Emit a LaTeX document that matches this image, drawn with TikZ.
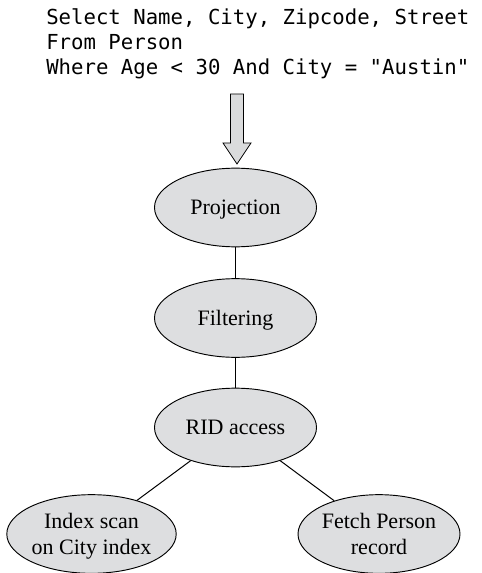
\documentclass[tikz,border=0pt]{standalone}
\usepackage{fontspec}
\setmainfont{Liberation Serif}
\newfontfamily\querymono{DejaVu Sans Mono}
\usetikzlibrary{shapes.geometric}
\definecolor{opfill}{RGB}{221,222,224}
\definecolor{arrowfill}{RGB}{218,219,220}
\begin{document}
\begin{tikzpicture}[x=0.75pt,y=-0.75pt,
  opnode/.style={ellipse, draw=black, line width=0.7pt, fill=opfill,
    minimum width=121.5pt, minimum height=59pt, inner sep=0pt,
    align=center, text depth=0pt,
    font=\fontsize{16.5}{19}\selectfont},
  link/.style={line width=0.75pt},
  querytext/.style={anchor=base west, inner sep=0pt,
    font=\querymono\fontsize{15.5}{18.75}\selectfont}]
\useasboundingbox (0,0) rectangle (481,573);

% SQL query
\node[querytext] (q1) at (46,25) {Select Name, City, Zipcode, Street};
\node[querytext] (q2) at (46,50) {From Person};
\node[querytext] (q3) at (46,75) {Where Age < 30 And City = "Austin"};

% hollow block arrow feeding the plan
\coordinate (tip) at (237,164);
\filldraw[fill=arrowfill, draw=black, line width=0.6pt]
  (230.5,94) -- (243.5,94) -- (243.5,143) -- (251,143) -- (tip)
  -- (223,143) -- (230.5,143) -- cycle;

% operator tree
\node[opnode] (proj) at (235.5,207.5) {Projection};
\node[opnode] (filt) at (235.5,318) {Filtering};
\node[opnode] (rid)  at (235.5,427.5) {RID access};
\node[opnode] (idx)  at (91.5,534) {Index scan\\on City index};
\node[opnode] (fetch) at (379,534) {Fetch Person\\record};

\draw[link] (proj) -- (filt);
\draw[link] (filt) -- (rid);
\draw[link] (rid) -- (idx);
\draw[link] (rid) -- (fetch);
\end{tikzpicture}
\end{document}
